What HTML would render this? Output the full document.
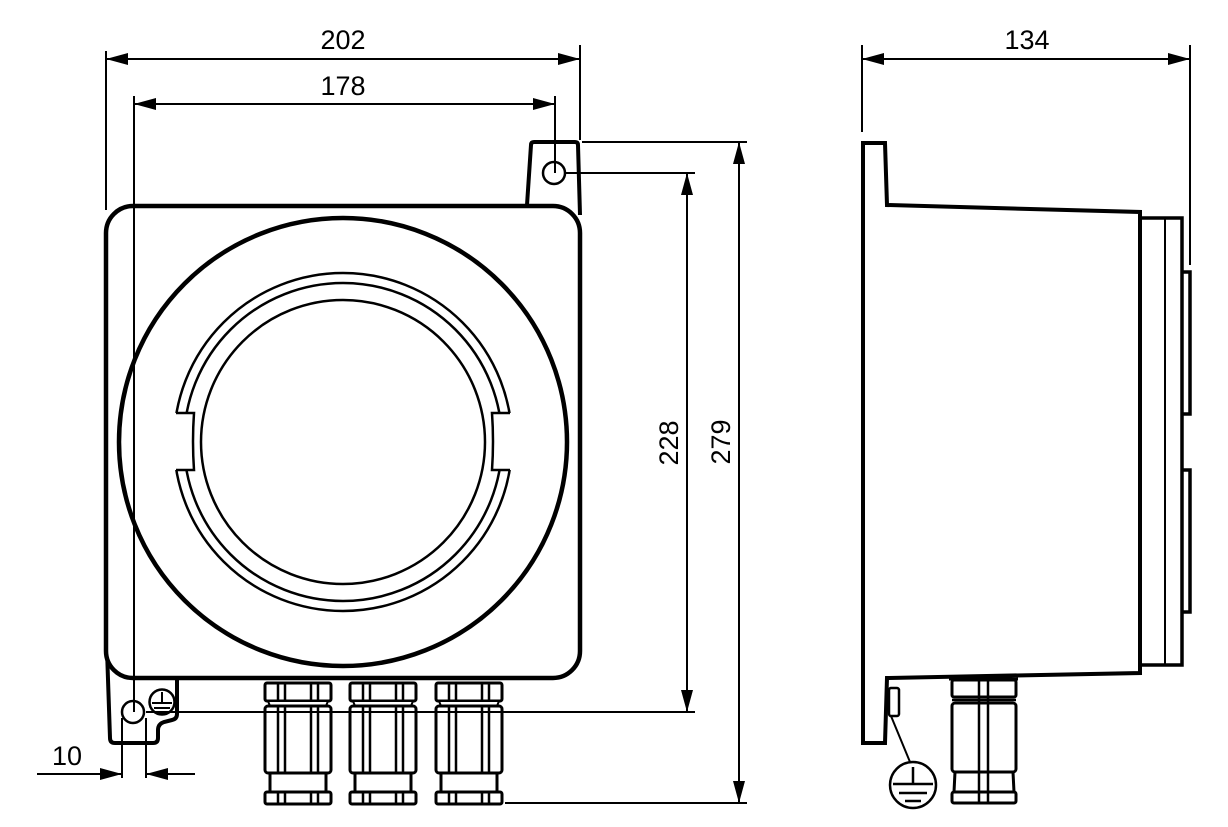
<!DOCTYPE html>
<html><head><meta charset="utf-8"><style>
html,body{margin:0;padding:0;background:#fff;}
svg{display:block}
text{font-family:"Liberation Sans",Arial,sans-serif;font-size:27px;fill:#000}
</style></head><body>
<svg width="1228" height="827" viewBox="0 0 1228 827" xmlns="http://www.w3.org/2000/svg">
<defs>
<marker id="a" viewBox="0 0 22 12" refX="22" refY="6" markerWidth="22" markerHeight="12" markerUnits="userSpaceOnUse" orient="auto-start-reverse">
<path d="M0,0 L22,6 L0,12 z" fill="#000"/></marker>
<clipPath id="nn"><path d="M0,0H1228V413H0z M0,470H1228V827H0z"/></clipPath>
<g id="gl" fill="#fff" stroke="#000" stroke-width="3">
<rect x="265" y="683" width="66" height="18" rx="2"/>
<path d="M268,701 H328 L326,706 H270z" stroke-width="2"/>
<rect x="265" y="706" width="66" height="67" rx="3"/>
<path d="M270,773 V792 M326,773 V792" />
<rect x="265" y="792" width="66" height="12" rx="2"/>
<path d="M278,683V701 M285,683V701 M311,683V701 M318,683V701 M278,706V773 M285,706V773 M311,706V773 M318,706V773 M278,792V804 M285,792V804 M311,792V804 M318,792V804" stroke-width="2.5"/>
</g>
</defs>

<g fill="none" stroke="#000">
<!-- front view body -->
<path d="M527,205 L531,145 Q531,142 534,142 L575,142 Q578,142 578,145 L580,215" stroke-width="4" fill="#fff"/>
<!-- bottom lug (behind body) -->
<path d="M107,650 L110,738 Q110,743 115,743 L153,743 Q158,743 158,738 L158,730 Q158,724 164,722 L172,720 Q177,719 177,714 L177,650" stroke-width="4" fill="#fff"/>
<rect x="106" y="206" width="474" height="472" rx="27" stroke-width="4.5" fill="#fff"/>
<circle cx="554" cy="173" r="11" stroke-width="2.5"/>
<circle cx="133" cy="712" r="11" stroke-width="2.5" fill="#fff"/>
<circle cx="162" cy="702" r="12.5" stroke-width="2.5" fill="#fff"/>
<path d="M162,692V702 M152,703H172 M154,708H170 M157,713H167" stroke-width="2"/>
<!-- big circle -->
<circle cx="343" cy="442" r="224" stroke-width="4.5"/>
<g clip-path="url(#nn)" stroke-width="2.5">
<circle cx="343" cy="442" r="169"/>
<circle cx="343" cy="442" r="159"/>
</g>
<circle cx="343" cy="442" r="142" stroke-width="2.5"/>
<path d="M176,413 H194 Q192,441.5 194,470 H176 M510,413 H492 Q494,441.5 492,470 H510" stroke-width="2.5"/>

<!-- glands -->
<use href="#gl"/>
<use href="#gl" transform="translate(85,0)"/>
<use href="#gl" transform="translate(171,0)"/>

<!-- dimension lines front -->
<g stroke-width="2">
<path d="M106,51V210 M580,45V140 M134,96V712 M555,96V173"/>
<path d="M106,59H580" marker-start="url(#a)" marker-end="url(#a)"/>
<path d="M134,104H555" marker-start="url(#a)" marker-end="url(#a)"/>
<path d="M566,173H695 M146,712H695 M582,142H747 M505,803H747"/>
<path d="M687,173V712" marker-start="url(#a)" marker-end="url(#a)"/>
<path d="M739,142V803" marker-start="url(#a)" marker-end="url(#a)"/>
<path d="M122,718V778 M146,718V778"/>
<path d="M37,774H122" marker-end="url(#a)"/>
<path d="M195,774H146" marker-end="url(#a)"/>
</g>

<!-- side view -->
<path d="M863,743 V143 H885 L887,205 L1140,212 V673 L887,678 L885,743 Z" stroke-width="4" fill="#fff"/>
<path d="M1140,218 H1182 V665 H1140" stroke-width="3.5"/>
<path d="M1165,218V665" stroke-width="2"/>
<path d="M1182,272 H1190 V414 H1182 M1182,470 H1190 V612 H1182" stroke-width="3.5"/>
<rect x="889" y="688" width="10" height="28" rx="2" stroke-width="2.5" fill="#fff"/>
<path d="M891,716 L910,762" stroke-width="2"/>
<circle cx="913" cy="785" r="23" stroke-width="2.5"/>
<path d="M913,767V784 M893,784H933 M899,793H927 M905,801H921" stroke-width="2.5"/>
<!-- side gland -->
<g stroke="#000" stroke-width="3" fill="#fff">
<path d="M949,679 H1018" />
<rect x="952" y="680" width="64" height="17" rx="2"/>
<rect x="952" y="703" width="64" height="69" rx="3"/>
<path d="M952,700H1016" stroke-width="2.5"/>
<path d="M955,772 L954,792 M1013,772 L1014,792"/>
<rect x="952" y="792" width="64" height="11" rx="2"/>
<path d="M979,680V803 M988,680V803" stroke-width="2.5"/>
</g>
<g stroke-width="2">
<path d="M862,45V132 M1190,45V265"/>
<path d="M862,59H1190" marker-start="url(#a)" marker-end="url(#a)"/>
</g>
</g>

<text x="343" y="49" text-anchor="middle">202</text>
<text x="343" y="95" text-anchor="middle">178</text>
<text x="1027" y="49" text-anchor="middle">134</text>
<text x="67" y="765" text-anchor="middle">10</text>
<text transform="translate(678,443) rotate(-90)" text-anchor="middle">228</text>
<text transform="translate(730,442) rotate(-90)" text-anchor="middle">279</text>
</svg>
</body></html>
